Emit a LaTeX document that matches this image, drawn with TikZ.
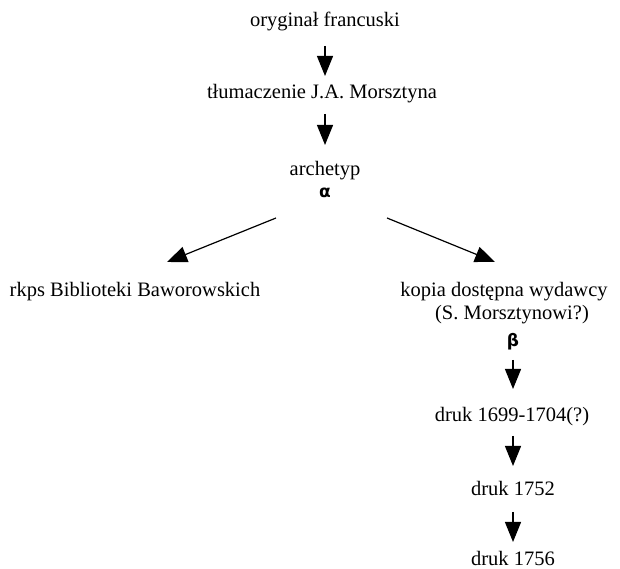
\documentclass[tikz,border=0pt]{standalone}
\usepackage{fontspec}
\setmainfont{Liberation Serif}
\newfontfamily\greekfont{DejaVu Sans}
\usetikzlibrary{arrows.meta}
\begin{document}
\begin{tikzpicture}[x=1pt,y=1pt,
  lbl/.style={inner sep=0pt,anchor=base,font=\fontsize{20.5}{24}\selectfont},
  gr/.style={inner sep=0pt,anchor=base,font=\greekfont\bfseries\fontsize{17}{20}\selectfont},
  arr/.style={line width=1.2pt,-{Triangle[length=20pt,width=16pt]}}]
\useasboundingbox (0,0) rectangle (620,569);
\node[lbl] (orig) at (325,542) {oryginał francuski};
\node[lbl] (tlum) at (322,470) {tłumaczenie J.A. Morsztyna};
\node[lbl] (arch) at (325,393) {archetyp};
\node[gr] (alph) at (325,371) {α};
\node[lbl] (rkps) at (135,272) {rkps Biblioteki Baworowskich};
\node[lbl] (kopia) at (504,272) {kopia dostępna wydawcy};
\node[lbl] (smor) at (512,249) {(S. Morsztynowi?)};
\node[gr] (bet) at (513,222) {β};
\node[lbl] (d1699) at (512,147) {druk 1699-1704(?)};
\node[lbl] (d1752) at (513,73) {druk 1752};
\node[lbl] (d1756) at (513,3) {druk 1756};
\coordinate (ls) at (276,351);
\coordinate (le) at (167,307);
\coordinate (rs) at (387,351);
\coordinate (re) at (495,307);
\coordinate (o1) at (325,523);
\coordinate (o2) at (325,493);
\coordinate (t1) at (325,455);
\coordinate (t2) at (325,424);
\coordinate (b1) at (513,209);
\coordinate (b2) at (513,180);
\coordinate (p1) at (513,133);
\coordinate (p2) at (513,103);
\coordinate (q1) at (513,57);
\coordinate (q2) at (513,27);
\draw[arr] (o1) -- (o2);
\draw[arr] (t1) -- (t2);
\draw[arr] (ls) -- (le);
\draw[arr] (rs) -- (re);
\draw[arr] (b1) -- (b2);
\draw[arr] (p1) -- (p2);
\draw[arr] (q1) -- (q2);
\end{tikzpicture}
\end{document}
